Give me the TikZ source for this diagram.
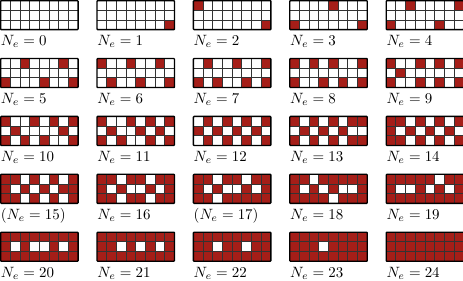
\documentclass[tikz,border=0pt]{standalone}
\definecolor{cellred}{RGB}{165,30,24}
\tikzset{
  cellfill/.style={fill=cellred},
  gridline/.style={draw=black!80, line width=0.6pt},
  gridframe/.style={draw=black, line width=0.9pt, rounded corners=0.5pt},
  lab/.style={anchor=base west, inner sep=0pt, font=\fontsize{10}{12}\selectfont}
}
\newcommand{\cw}{9.6875}
\newcommand{\fillrow}[2]{% #1 row index (0,1,2), #2 list of columns (0 = none)
  \foreach \c in {#2}{%
    \ifnum\c>0
      \fill[cellfill] ({(\c-1)*\cw},{#1*\cw}) rectangle ++(\cw,\cw);
    \fi
  }%
}
\newcommand{\latgrid}[7]{% #1 name, #2 x, #3 y, #4 top, #5 mid, #6 bottom, #7 label
  \begin{scope}[shift={(#2,#3)}]
    \fill[white] (0,0) rectangle (77.5,29.0625);
    \fillrow{0}{#4}
    \fillrow{1}{#5}
    \fillrow{2}{#6}
    \foreach \k in {1,...,7}{\draw[gridline] ({\k*\cw},0) -- ({\k*\cw},29.0625);}
    \foreach \k in {1,2}{\draw[gridline] (0,{\k*\cw}) -- (77.5,{\k*\cw});}
    \draw[gridframe] (0,0) rectangle (77.5,29.0625);
    \node[lab] (#1) at (0,45) {#7};
  \end{scope}
}
\begin{document}
\begin{tikzpicture}[x=0.67pt,y=-0.67pt]
\useasboundingbox (-0.6,-0.6) rectangle (462.4,279.4);
% row 1
\latgrid{l0}{0}{0}{0}{0}{0}{$N_e=0$}
\latgrid{l1}{96.4}{0}{0}{0}{8}{$N_e=1$}
\latgrid{l2}{192.8}{0}{1}{0}{8}{$N_e=2$}
\latgrid{l3}{289.2}{0}{5}{0}{1,8}{$N_e=3$}
\latgrid{l4}{385.6}{0}{3,8}{0}{1,6}{$N_e=4$}
% row 2
\latgrid{l5}{0}{57.9}{3,7}{0}{1,5,8}{$N_e=5$}
\latgrid{l6}{96.4}{57.9}{1,4,7}{0}{2,5,8}{$N_e=6$}
\latgrid{l7}{192.8}{57.9}{2,5,8}{0}{1,3,6,8}{$N_e=7$}
\latgrid{l8}{289.2}{57.9}{1,3,5,8}{0}{1,4,6,8}{$N_e=8$}
\latgrid{l9}{385.6}{57.9}{1,4,6,8}{2}{1,4,6,8}{$N_e=9$}
% row 3
\latgrid{l10}{0}{115.8}{1,4,6,8}{2,7}{1,3,5,8}{$N_e=10$}
\latgrid{l11}{96.4}{115.8}{1,4,6,8}{2,5,7}{1,3,6,8}{$N_e=11$}
\latgrid{l12}{192.8}{115.8}{2,4,6,8}{1,3,5,7}{2,4,6,8}{$N_e=12$}
\latgrid{l13}{289.2}{115.8}{1,3,5,7,8}{2,4,6}{1,3,5,7,8}{$N_e=13$}
\latgrid{l14}{385.6}{115.8}{1,2,4,6,8}{1,3,5,7}{1,2,4,6,8}{$N_e=14$}
% row 4
\latgrid{l15}{0}{173.7}{1,2,4,6,8}{1,3,5,7,8}{1,2,4,6,8}{$(N_e=15)$}
\latgrid{l16}{96.4}{173.7}{1,2,4,5,7,8}{1,3,6,8}{1,2,4,5,7,8}{$N_e=16$}
\latgrid{l17}{192.8}{173.7}{1,2,4,5,7,8}{1,3,6,8}{1,2,4,5,6,7,8}{$(N_e=17)$}
\latgrid{l18}{289.2}{173.7}{1,2,4,5,6,7,8}{1,3,5,8}{1,2,3,4,6,7,8}{$N_e=18$}
\latgrid{l19}{385.6}{173.7}{1,2,3,4,5,7,8}{1,4,6,8}{1,2,3,4,5,6,7,8}{$N_e=19$}
% row 5
\latgrid{l20}{0}{231.6}{1,2,3,4,5,6,7,8}{1,3,6,8}{1,2,3,4,5,6,7,8}{$N_e=20$}
\latgrid{l21}{96.4}{231.6}{1,2,3,4,5,6,7,8}{1,2,4,6,8}{1,2,3,4,5,6,7,8}{$N_e=21$}
\latgrid{l22}{192.8}{231.6}{1,2,3,4,5,6,7,8}{1,2,4,5,7,8}{1,2,3,4,5,6,7,8}{$N_e=22$}
\latgrid{l23}{289.2}{231.6}{1,2,3,4,5,6,7,8}{1,2,3,5,6,7,8}{1,2,3,4,5,6,7,8}{$N_e=23$}
\latgrid{l24}{385.6}{231.6}{1,2,3,4,5,6,7,8}{1,2,3,4,5,6,7,8}{1,2,3,4,5,6,7,8}{$N_e=24$}
\end{tikzpicture}
\end{document}
